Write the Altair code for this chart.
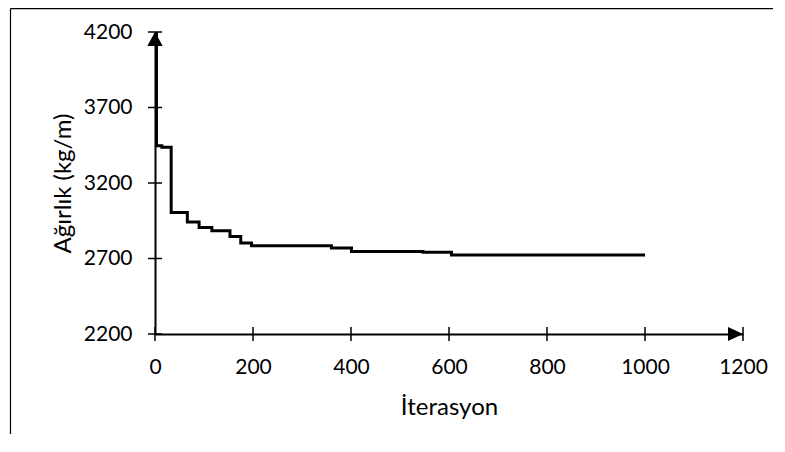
import altair as alt
import pandas as pd

# ---- data ----
iterations = [0, 3, 14, 33, 66, 90, 116, 153, 175, 197, 360, 401, 547, 605, 1000]
weights = [4190, 3447, 3437, 3005, 2942, 2906, 2884, 2846, 2803, 2785, 2770, 2747, 2741, 2723, 2723]

x_ticks = [0, 200, 400, 600, 800, 1000, 1200]
y_ticks = [2200, 2700, 3200, 3700, 4200]
x_title = "İterasyon"
y_title = "Ağırlık (kg/m)"

W, H = 588, 302
FONT = "Lato"
FS = 21
TFS = 24

line_df = pd.DataFrame({"iter": iterations, "w": weights})
xt_df = pd.DataFrame({"iter": x_ticks})
yt_df = pd.DataFrame({"w": y_ticks})
xarrow_df = pd.DataFrame({"iter": [x_ticks[-1]], "w": [y_ticks[0]]})
yarrow_df = pd.DataFrame({"iter": [x_ticks[0]], "w": [y_ticks[-1]]})
one_df = pd.DataFrame({"k": [0]})

xs = alt.Scale(domain=[x_ticks[0], x_ticks[-1]], nice=False, zero=False)
ys = alt.Scale(domain=[y_ticks[0], y_ticks[-1]], nice=False, zero=False)

x_axis = alt.Axis(values=x_ticks, title=x_title, ticks=False, grid=False,
                  domainColor="black", domainWidth=2, labelFont=FONT, labelFontSize=FS,
                  labelColor="black", labelPadding=22, labelFlush=False, labelOverlap=False,
                  labelBound=False, titleFont=FONT, titleFontSize=TFS, titleFontWeight="normal",
                  titleColor="black", titleX=W / 2, titleY=80, titleBaseline="alphabetic",
                  titleAlign="center", format="d")
y_axis = alt.Axis(values=y_ticks, title=y_title, ticks=False, grid=False,
                  domainColor="black", domainWidth=2, labelFont=FONT, labelFontSize=FS,
                  labelColor="black", labelPadding=23, labelFlush=False, labelOverlap=False,
                  labelBound=False, titleFont=FONT, titleFontSize=TFS, titleFontWeight="normal",
                  titleColor="black", titleX=-85, titleY=H / 2, titleAngle=270,
                  titleBaseline="alphabetic", titleAlign="center", format="d")

X = alt.X("iter:Q", scale=xs, axis=x_axis)
Y = alt.Y("w:Q", scale=ys, axis=y_axis)

line = alt.Chart(line_df).mark_line(interpolate="step-after", color="black", strokeWidth=3).encode(
    x=X, y=Y,
)

xticks = alt.Chart(xt_df).mark_rule(color="black", strokeWidth=1.5).encode(
    x=X, y=alt.value(H - 7), y2=alt.value(H + 7),
)
yticks = alt.Chart(yt_df).mark_rule(color="black", strokeWidth=1.5).encode(
    y=Y, x=alt.value(-7), x2=alt.value(7),
)

xarrow = alt.Chart(xarrow_df).mark_point(
    shape="M0,0L-2,-0.93L-2,0.93Z", size=225, filled=True, color="black", opacity=1, strokeWidth=0
).encode(x=X, y=Y)

yarrow = alt.Chart(yarrow_df).mark_point(
    shape="M0,0L-1.1,2L1.1,2Z", size=196, filled=True, color="black", opacity=1, strokeWidth=0
).encode(x=X, y=Y)

frame_top = alt.Chart(one_df).mark_rule(color="black", strokeWidth=1.2).encode(
    x=alt.value(-144.5), x2=alt.value(W + 30), y=alt.value(-23.4)
)
frame_left = alt.Chart(one_df).mark_rule(color="black", strokeWidth=1.2).encode(
    x=alt.value(-144.5), y=alt.value(-23.4), y2=alt.value(H + 100)
)

chart = alt.layer(frame_top, frame_left, line, xticks, yticks, xarrow, yarrow).properties(
    width=W, height=H,
    padding={"left": 147, "top": 24, "right": 30, "bottom": 100},
    autosize=alt.AutoSizeParams(type="none"),
).configure_view(stroke=None)

chart.save("out.html", embed_options={"renderer": "svg", "actions": False})
